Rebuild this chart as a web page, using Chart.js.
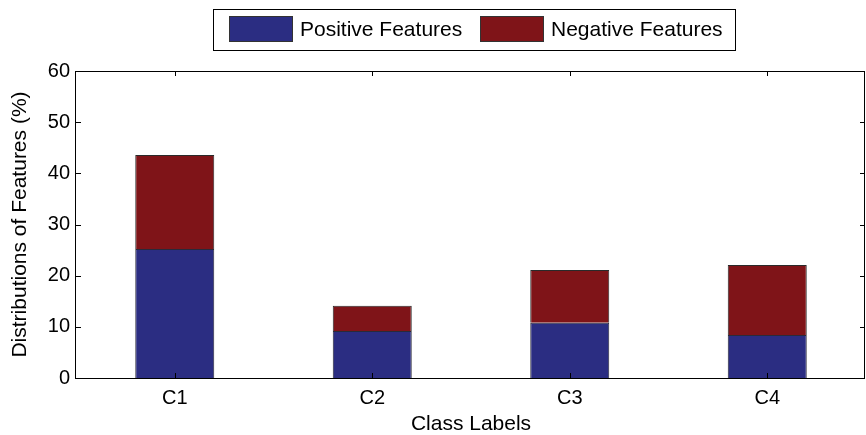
<!DOCTYPE html>
<html>
<head>
<meta charset="utf-8">
<script src="https://cdn.jsdelivr.net/npm/chart.js@4.4.0/dist/chart.umd.min.js"></script>
<style>
  html, body { margin: 0; padding: 0; background: #fff; }
  #wrap { width: 866px; height: 435px; }
</style>
</head>
<body>
<div id="wrap"><canvas id="myChart" width="866" height="435"></canvas></div>
<script>
// values (percent)
const classLabels = ["C1", "C2", "C3", "C4"];
const positiveFeatures = [25.2, 9.2, 10.8, 8.4];
const negativeFeatures = [18.4, 4.9, 10.3, 13.7];
const yTicks = [0, 10, 20, 30, 40, 50, 60];

const fontName = "'Liberation Sans', Arial, sans-serif";

// matlab style box, inward ticks and framed legend
const matlabBox = {
  id: "matlabBox",
  afterDraw(chart) {
    const ctx = chart.ctx;
    const a = chart.chartArea;
    const y = chart.scales.y;
    const x = chart.scales.x;
    // the axes box is cut at the canvas edge like the original
    const right = Math.min(a.right, chart.width - 1);
    ctx.save();
    ctx.strokeStyle = "#000";
    ctx.lineWidth = 1;
    ctx.strokeRect(a.left - 0.5, a.top + 0.5, right - a.left, a.bottom - a.top);
    ctx.beginPath();
    yTicks.forEach(function (v) {
      const py = Math.round(y.getPixelForValue(v)) + 0.5;
      ctx.moveTo(a.left, py); ctx.lineTo(a.left + 5, py);
      ctx.moveTo(right, py); ctx.lineTo(right - 5, py);
    });
    classLabels.forEach(function (c, i) {
      const px = Math.round(x.getPixelForValue(i)) + 0.5;
      ctx.moveTo(px, a.top); ctx.lineTo(px, a.top + 5);
      ctx.moveTo(px, a.bottom); ctx.lineTo(px, a.bottom - 5);
    });
    ctx.stroke();

    // legend
    ctx.fillStyle = "#fff";
    ctx.fillRect(213, 9, 522, 41);
    ctx.strokeRect(213.5, 9.5, 522, 41);
    ctx.font = "21px " + fontName;
    ctx.textBaseline = "middle";
    const swX = [229, 480];
    chart.data.datasets.forEach(function (ds, i) {
      ctx.fillStyle = ds.backgroundColor;
      ctx.fillRect(swX[i], 16, 64, 26);
      ctx.strokeStyle = "#333";
      ctx.strokeRect(swX[i] + 0.5, 16.5, 63, 25);
      ctx.fillStyle = "#000";
      ctx.fillText(ds.label, swX[i] + 71, 30);
    });
    ctx.restore();
  }
};

new Chart(document.getElementById("myChart"), {
  type: "bar",
  data: {
    labels: classLabels,
    datasets: [
      {
        label: "Positive Features",
        data: positiveFeatures,
        backgroundColor: "#2b2d82",
        borderColor: "#2a2a3a",
        borderWidth: 1
      },
      {
        label: "Negative Features",
        data: negativeFeatures,
        backgroundColor: "#7f1418",
        borderColor: "#2a2a2a",
        borderWidth: 1
      }
    ]
  },
  options: {
    responsive: false,
    animation: false,
    layout: { padding: { top: 71, right: -3, left: 0, bottom: 0 } },
    datasets: { bar: { barPercentage: 0.4, categoryPercentage: 1 } },
    plugins: { legend: { display: false }, tooltip: { enabled: false } },
    scales: {
      x: {
        stacked: true,
        grid: { display: false, drawTicks: false },
        border: { display: false },
        ticks: { color: "#000", font: { family: fontName, size: 20 }, padding: 8 },
        title: {
          display: true, text: "Class Labels", color: "#000",
          font: { family: fontName, size: 21, lineHeight: 1 }, padding: { top: 2, bottom: 0 }
        },
        afterFit(scale) { scale.height = 57; }
      },
      y: {
        stacked: true,
        min: 0, max: 60,
        grid: { display: false, drawTicks: false },
        border: { display: false },
        ticks: {
          stepSize: 10, color: "#000", padding: 6,
          font: { family: fontName, size: 20 }
        },
        title: {
          display: true, text: "Distributions of Features (%)", color: "#000",
          font: { family: fontName, size: 21 }, padding: { top: 8, bottom: 0 }
        },
        afterFit(scale) { scale.width = 76; }
      }
    }
  },
  plugins: [matlabBox]
});
</script>
</body>
</html>
